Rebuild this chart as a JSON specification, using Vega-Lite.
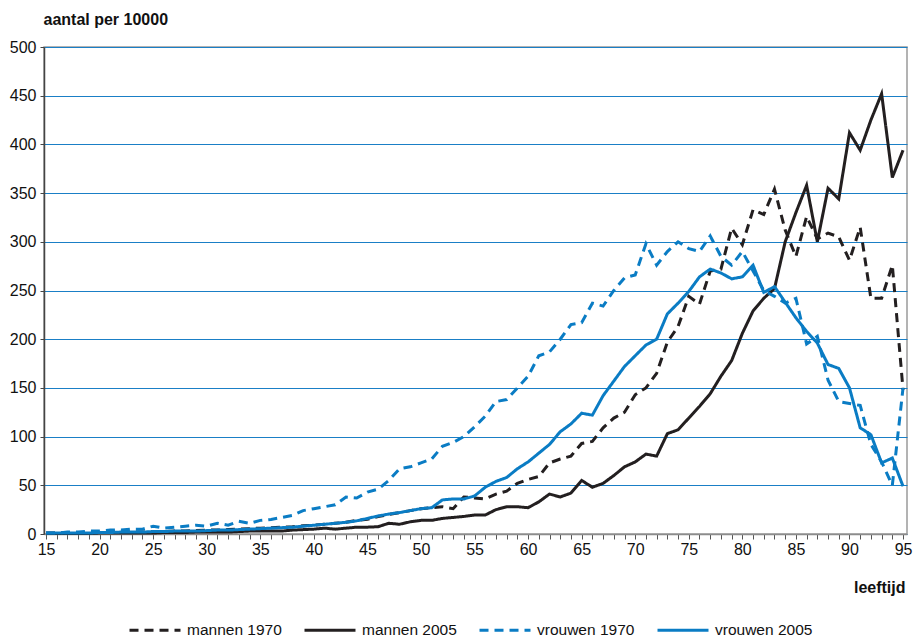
{
  "$schema": "https://vega.github.io/schema/vega-lite/v6.json",
  "width": 863,
  "height": 487,
  "autosize": {"type": "none"},
  "padding": {"left": 44, "top": 47, "right": 6, "bottom": 104},
  "background": "white",
  "config": {
    "font": "Liberation Sans",
    "view": {"stroke": "#9a9a9a", "strokeWidth": 1.5},
    "axis": {"labelFont": "Liberation Sans", "labelFontSize": 16, "labelColor": "#111", "titleFont": "Liberation Sans", "titleFontSize": 16, "titleFontWeight": "bold", "titleColor": "#111"},
    "legend": {"labelFont": "Liberation Sans", "labelFontSize": 15.5, "labelColor": "#111"}
  },
  "datasets": {
    "d": [
      {"a":15,"s":"mannen 1970","v":1},{"a":16,"s":"mannen 1970","v":1},{"a":17,"s":"mannen 1970","v":1},{"a":18,"s":"mannen 1970","v":1},{"a":19,"s":"mannen 1970","v":1},{"a":20,"s":"mannen 1970","v":1.5},{"a":21,"s":"mannen 1970","v":2},{"a":22,"s":"mannen 1970","v":2},{"a":23,"s":"mannen 1970","v":2},{"a":24,"s":"mannen 1970","v":2},
      {"a":25,"s":"mannen 1970","v":2.5},{"a":26,"s":"mannen 1970","v":2.5},{"a":27,"s":"mannen 1970","v":3},{"a":28,"s":"mannen 1970","v":3},{"a":29,"s":"mannen 1970","v":3.5},{"a":30,"s":"mannen 1970","v":4},{"a":31,"s":"mannen 1970","v":4},{"a":32,"s":"mannen 1970","v":4.5},{"a":33,"s":"mannen 1970","v":5},{"a":34,"s":"mannen 1970","v":5.5},
      {"a":35,"s":"mannen 1970","v":6},{"a":36,"s":"mannen 1970","v":6.5},{"a":37,"s":"mannen 1970","v":7},{"a":38,"s":"mannen 1970","v":7.5},{"a":39,"s":"mannen 1970","v":8.5},{"a":40,"s":"mannen 1970","v":9},{"a":41,"s":"mannen 1970","v":10},{"a":42,"s":"mannen 1970","v":11},{"a":43,"s":"mannen 1970","v":12},{"a":44,"s":"mannen 1970","v":14},
      {"a":45,"s":"mannen 1970","v":15},{"a":46,"s":"mannen 1970","v":18},{"a":47,"s":"mannen 1970","v":20},{"a":48,"s":"mannen 1970","v":22},{"a":49,"s":"mannen 1970","v":24},{"a":50,"s":"mannen 1970","v":26},{"a":51,"s":"mannen 1970","v":27},{"a":52,"s":"mannen 1970","v":28},{"a":53,"s":"mannen 1970","v":26},{"a":54,"s":"mannen 1970","v":38},
      {"a":55,"s":"mannen 1970","v":37},{"a":56,"s":"mannen 1970","v":36},{"a":57,"s":"mannen 1970","v":41},{"a":58,"s":"mannen 1970","v":44},{"a":59,"s":"mannen 1970","v":52},{"a":60,"s":"mannen 1970","v":56},{"a":61,"s":"mannen 1970","v":59},{"a":62,"s":"mannen 1970","v":73},{"a":63,"s":"mannen 1970","v":77},{"a":64,"s":"mannen 1970","v":80},
      {"a":65,"s":"mannen 1970","v":93},{"a":66,"s":"mannen 1970","v":95},{"a":67,"s":"mannen 1970","v":109},{"a":68,"s":"mannen 1970","v":119},{"a":69,"s":"mannen 1970","v":125},{"a":70,"s":"mannen 1970","v":143},{"a":71,"s":"mannen 1970","v":150},{"a":72,"s":"mannen 1970","v":165},{"a":73,"s":"mannen 1970","v":197},{"a":74,"s":"mannen 1970","v":213},
      {"a":75,"s":"mannen 1970","v":244},{"a":76,"s":"mannen 1970","v":236},{"a":77,"s":"mannen 1970","v":270},{"a":78,"s":"mannen 1970","v":272},{"a":79,"s":"mannen 1970","v":314},{"a":80,"s":"mannen 1970","v":297},{"a":81,"s":"mannen 1970","v":333},{"a":82,"s":"mannen 1970","v":328},{"a":83,"s":"mannen 1970","v":354},{"a":84,"s":"mannen 1970","v":312},
      {"a":85,"s":"mannen 1970","v":285},{"a":86,"s":"mannen 1970","v":326},{"a":87,"s":"mannen 1970","v":303},{"a":88,"s":"mannen 1970","v":309},{"a":89,"s":"mannen 1970","v":305},{"a":90,"s":"mannen 1970","v":281},{"a":91,"s":"mannen 1970","v":315},{"a":92,"s":"mannen 1970","v":242},{"a":93,"s":"mannen 1970","v":242},{"a":94,"s":"mannen 1970","v":276},
      {"a":95,"s":"mannen 1970","v":148},

      {"a":15,"s":"mannen 2005","v":0.5},{"a":16,"s":"mannen 2005","v":0.5},{"a":17,"s":"mannen 2005","v":0.5},{"a":18,"s":"mannen 2005","v":0.5},{"a":19,"s":"mannen 2005","v":0.5},{"a":20,"s":"mannen 2005","v":1},{"a":21,"s":"mannen 2005","v":1},{"a":22,"s":"mannen 2005","v":1},{"a":23,"s":"mannen 2005","v":1},{"a":24,"s":"mannen 2005","v":1},
      {"a":25,"s":"mannen 2005","v":1},{"a":26,"s":"mannen 2005","v":1.5},{"a":27,"s":"mannen 2005","v":1.5},{"a":28,"s":"mannen 2005","v":1.5},{"a":29,"s":"mannen 2005","v":2},{"a":30,"s":"mannen 2005","v":2},{"a":31,"s":"mannen 2005","v":2},{"a":32,"s":"mannen 2005","v":2},{"a":33,"s":"mannen 2005","v":2.5},{"a":34,"s":"mannen 2005","v":3},
      {"a":35,"s":"mannen 2005","v":3},{"a":36,"s":"mannen 2005","v":3},{"a":37,"s":"mannen 2005","v":3},{"a":38,"s":"mannen 2005","v":4},{"a":39,"s":"mannen 2005","v":4.5},{"a":40,"s":"mannen 2005","v":5},{"a":41,"s":"mannen 2005","v":6},{"a":42,"s":"mannen 2005","v":5},{"a":43,"s":"mannen 2005","v":6},{"a":44,"s":"mannen 2005","v":7},
      {"a":45,"s":"mannen 2005","v":7},{"a":46,"s":"mannen 2005","v":7.5},{"a":47,"s":"mannen 2005","v":11},{"a":48,"s":"mannen 2005","v":10},{"a":49,"s":"mannen 2005","v":12.5},{"a":50,"s":"mannen 2005","v":14},{"a":51,"s":"mannen 2005","v":14},{"a":52,"s":"mannen 2005","v":16},{"a":53,"s":"mannen 2005","v":17},{"a":54,"s":"mannen 2005","v":18},
      {"a":55,"s":"mannen 2005","v":19.5},{"a":56,"s":"mannen 2005","v":19.5},{"a":57,"s":"mannen 2005","v":25},{"a":58,"s":"mannen 2005","v":28},{"a":59,"s":"mannen 2005","v":28},{"a":60,"s":"mannen 2005","v":27},{"a":61,"s":"mannen 2005","v":33},{"a":62,"s":"mannen 2005","v":41},{"a":63,"s":"mannen 2005","v":38},{"a":64,"s":"mannen 2005","v":42},
      {"a":65,"s":"mannen 2005","v":55},{"a":66,"s":"mannen 2005","v":48},{"a":67,"s":"mannen 2005","v":52},{"a":68,"s":"mannen 2005","v":60},{"a":69,"s":"mannen 2005","v":69},{"a":70,"s":"mannen 2005","v":74},{"a":71,"s":"mannen 2005","v":82},{"a":72,"s":"mannen 2005","v":80},{"a":73,"s":"mannen 2005","v":103},{"a":74,"s":"mannen 2005","v":107},
      {"a":75,"s":"mannen 2005","v":119},{"a":76,"s":"mannen 2005","v":131},{"a":77,"s":"mannen 2005","v":144},{"a":78,"s":"mannen 2005","v":162},{"a":79,"s":"mannen 2005","v":178},{"a":80,"s":"mannen 2005","v":206},{"a":81,"s":"mannen 2005","v":229},{"a":82,"s":"mannen 2005","v":242},{"a":83,"s":"mannen 2005","v":252},{"a":84,"s":"mannen 2005","v":300},
      {"a":85,"s":"mannen 2005","v":330},{"a":86,"s":"mannen 2005","v":358},{"a":87,"s":"mannen 2005","v":300},{"a":88,"s":"mannen 2005","v":355},{"a":89,"s":"mannen 2005","v":344},{"a":90,"s":"mannen 2005","v":412},{"a":91,"s":"mannen 2005","v":394},{"a":92,"s":"mannen 2005","v":425},{"a":93,"s":"mannen 2005","v":452},{"a":94,"s":"mannen 2005","v":366},
      {"a":95,"s":"mannen 2005","v":394},

      {"a":15,"s":"vrouwen 1970","v":1},{"a":16,"s":"vrouwen 1970","v":1},{"a":17,"s":"vrouwen 1970","v":2},{"a":18,"s":"vrouwen 1970","v":2},{"a":19,"s":"vrouwen 1970","v":3},{"a":20,"s":"vrouwen 1970","v":3},{"a":21,"s":"vrouwen 1970","v":4},{"a":22,"s":"vrouwen 1970","v":4},{"a":23,"s":"vrouwen 1970","v":5},{"a":24,"s":"vrouwen 1970","v":5},
      {"a":25,"s":"vrouwen 1970","v":8},{"a":26,"s":"vrouwen 1970","v":6},{"a":27,"s":"vrouwen 1970","v":7},{"a":28,"s":"vrouwen 1970","v":8},{"a":29,"s":"vrouwen 1970","v":9},{"a":30,"s":"vrouwen 1970","v":8},{"a":31,"s":"vrouwen 1970","v":11},{"a":32,"s":"vrouwen 1970","v":9},{"a":33,"s":"vrouwen 1970","v":13},{"a":34,"s":"vrouwen 1970","v":11},
      {"a":35,"s":"vrouwen 1970","v":14},{"a":36,"s":"vrouwen 1970","v":15},{"a":37,"s":"vrouwen 1970","v":17},{"a":38,"s":"vrouwen 1970","v":19},{"a":39,"s":"vrouwen 1970","v":24},{"a":40,"s":"vrouwen 1970","v":26},{"a":41,"s":"vrouwen 1970","v":28},{"a":42,"s":"vrouwen 1970","v":30},{"a":43,"s":"vrouwen 1970","v":38},{"a":44,"s":"vrouwen 1970","v":37},
      {"a":45,"s":"vrouwen 1970","v":43},{"a":46,"s":"vrouwen 1970","v":46},{"a":47,"s":"vrouwen 1970","v":55},{"a":48,"s":"vrouwen 1970","v":67},{"a":49,"s":"vrouwen 1970","v":69},{"a":50,"s":"vrouwen 1970","v":73},{"a":51,"s":"vrouwen 1970","v":77},{"a":52,"s":"vrouwen 1970","v":90},{"a":53,"s":"vrouwen 1970","v":94},{"a":54,"s":"vrouwen 1970","v":100},
      {"a":55,"s":"vrouwen 1970","v":110},{"a":56,"s":"vrouwen 1970","v":121},{"a":57,"s":"vrouwen 1970","v":136},{"a":58,"s":"vrouwen 1970","v":138},{"a":59,"s":"vrouwen 1970","v":150},{"a":60,"s":"vrouwen 1970","v":162},{"a":61,"s":"vrouwen 1970","v":183},{"a":62,"s":"vrouwen 1970","v":187},{"a":63,"s":"vrouwen 1970","v":200},{"a":64,"s":"vrouwen 1970","v":215},
      {"a":65,"s":"vrouwen 1970","v":217},{"a":66,"s":"vrouwen 1970","v":237},{"a":67,"s":"vrouwen 1970","v":234},{"a":68,"s":"vrouwen 1970","v":250},{"a":69,"s":"vrouwen 1970","v":263},{"a":70,"s":"vrouwen 1970","v":266},{"a":71,"s":"vrouwen 1970","v":298},{"a":72,"s":"vrouwen 1970","v":276},{"a":73,"s":"vrouwen 1970","v":290},{"a":74,"s":"vrouwen 1970","v":300},
      {"a":75,"s":"vrouwen 1970","v":293},{"a":76,"s":"vrouwen 1970","v":290},{"a":77,"s":"vrouwen 1970","v":306},{"a":78,"s":"vrouwen 1970","v":285},{"a":79,"s":"vrouwen 1970","v":276},{"a":80,"s":"vrouwen 1970","v":290},{"a":81,"s":"vrouwen 1970","v":270},{"a":82,"s":"vrouwen 1970","v":250},{"a":83,"s":"vrouwen 1970","v":244},{"a":84,"s":"vrouwen 1970","v":237},
      {"a":85,"s":"vrouwen 1970","v":242},{"a":86,"s":"vrouwen 1970","v":195},{"a":87,"s":"vrouwen 1970","v":203},{"a":88,"s":"vrouwen 1970","v":158},{"a":89,"s":"vrouwen 1970","v":136},{"a":90,"s":"vrouwen 1970","v":134},{"a":91,"s":"vrouwen 1970","v":132},{"a":92,"s":"vrouwen 1970","v":92},{"a":93,"s":"vrouwen 1970","v":74},{"a":94,"s":"vrouwen 1970","v":50},
      {"a":95,"s":"vrouwen 1970","v":150},

      {"a":15,"s":"vrouwen 2005","v":1},{"a":16,"s":"vrouwen 2005","v":1},{"a":17,"s":"vrouwen 2005","v":1},{"a":18,"s":"vrouwen 2005","v":1},{"a":19,"s":"vrouwen 2005","v":1},{"a":20,"s":"vrouwen 2005","v":1.5},{"a":21,"s":"vrouwen 2005","v":1.5},{"a":22,"s":"vrouwen 2005","v":2},{"a":23,"s":"vrouwen 2005","v":2},{"a":24,"s":"vrouwen 2005","v":2},
      {"a":25,"s":"vrouwen 2005","v":2.5},{"a":26,"s":"vrouwen 2005","v":2.5},{"a":27,"s":"vrouwen 2005","v":3},{"a":28,"s":"vrouwen 2005","v":3},{"a":29,"s":"vrouwen 2005","v":3},{"a":30,"s":"vrouwen 2005","v":3.5},{"a":31,"s":"vrouwen 2005","v":4},{"a":32,"s":"vrouwen 2005","v":4},{"a":33,"s":"vrouwen 2005","v":4.5},{"a":34,"s":"vrouwen 2005","v":5},
      {"a":35,"s":"vrouwen 2005","v":5.5},{"a":36,"s":"vrouwen 2005","v":6},{"a":37,"s":"vrouwen 2005","v":6.5},{"a":38,"s":"vrouwen 2005","v":7},{"a":39,"s":"vrouwen 2005","v":8},{"a":40,"s":"vrouwen 2005","v":9},{"a":41,"s":"vrouwen 2005","v":10},{"a":42,"s":"vrouwen 2005","v":11},{"a":43,"s":"vrouwen 2005","v":12},{"a":44,"s":"vrouwen 2005","v":13.5},
      {"a":45,"s":"vrouwen 2005","v":16},{"a":46,"s":"vrouwen 2005","v":18.5},{"a":47,"s":"vrouwen 2005","v":20.5},{"a":48,"s":"vrouwen 2005","v":22},{"a":49,"s":"vrouwen 2005","v":24},{"a":50,"s":"vrouwen 2005","v":26},{"a":51,"s":"vrouwen 2005","v":27},{"a":52,"s":"vrouwen 2005","v":35},{"a":53,"s":"vrouwen 2005","v":36},{"a":54,"s":"vrouwen 2005","v":36},
      {"a":55,"s":"vrouwen 2005","v":39},{"a":56,"s":"vrouwen 2005","v":48},{"a":57,"s":"vrouwen 2005","v":54},{"a":58,"s":"vrouwen 2005","v":58},{"a":59,"s":"vrouwen 2005","v":67},{"a":60,"s":"vrouwen 2005","v":74},{"a":61,"s":"vrouwen 2005","v":83},{"a":62,"s":"vrouwen 2005","v":92},{"a":63,"s":"vrouwen 2005","v":105},{"a":64,"s":"vrouwen 2005","v":113},
      {"a":65,"s":"vrouwen 2005","v":124},{"a":66,"s":"vrouwen 2005","v":122},{"a":67,"s":"vrouwen 2005","v":142},{"a":68,"s":"vrouwen 2005","v":157},{"a":69,"s":"vrouwen 2005","v":172},{"a":70,"s":"vrouwen 2005","v":183},{"a":71,"s":"vrouwen 2005","v":194},{"a":72,"s":"vrouwen 2005","v":200},{"a":73,"s":"vrouwen 2005","v":226},{"a":74,"s":"vrouwen 2005","v":237},
      {"a":75,"s":"vrouwen 2005","v":249},{"a":76,"s":"vrouwen 2005","v":264},{"a":77,"s":"vrouwen 2005","v":272},{"a":78,"s":"vrouwen 2005","v":268},{"a":79,"s":"vrouwen 2005","v":262},{"a":80,"s":"vrouwen 2005","v":264},{"a":81,"s":"vrouwen 2005","v":276},{"a":82,"s":"vrouwen 2005","v":248},{"a":83,"s":"vrouwen 2005","v":254},{"a":84,"s":"vrouwen 2005","v":238},
      {"a":85,"s":"vrouwen 2005","v":222},{"a":86,"s":"vrouwen 2005","v":208},{"a":87,"s":"vrouwen 2005","v":196},{"a":88,"s":"vrouwen 2005","v":174},{"a":89,"s":"vrouwen 2005","v":170},{"a":90,"s":"vrouwen 2005","v":150},{"a":91,"s":"vrouwen 2005","v":109},{"a":92,"s":"vrouwen 2005","v":102},{"a":93,"s":"vrouwen 2005","v":73},{"a":94,"s":"vrouwen 2005","v":78},
      {"a":95,"s":"vrouwen 2005","v":49}
    ]
  },
  "data": {"name": "d"},
  "mark": {"type": "line", "strokeWidth": 3, "strokeCap": "butt", "strokeJoin": "miter", "clip": false},
  "encoding": {
    "x": {
      "field": "a", "type": "quantitative",
      "scale": {"domain": [14.81, 95.37], "nice": false, "zero": false},
      "axis": {
        "title": "leeftijd", "titleAlign": "right", "titleAnchor": null, "titleX": 861, "titleY": 58, "titleBaseline": "alphabetic",
        "values": [15,16,17,18,19,20,21,22,23,24,25,26,27,28,29,30,31,32,33,34,35,36,37,38,39,40,41,42,43,44,45,46,47,48,49,50,51,52,53,54,55,56,57,58,59,60,61,62,63,64,65,66,67,68,69,70,71,72,73,74,75,76,77,78,79,80,81,82,83,84,85,86,87,88,89,90,91,92,93,94,95],
        "labelExpr": "datum.value % 5 === 0 ? datum.label : ''",
        "labelOverlap": false, "labelFlush": false,
        "grid": false, "domainColor": "#8c8c8c", "domainWidth": 1.5, "tickColor": "#555", "tickSize": 5, "tickWidth": 1, "labelPadding": 2
      }
    },
    "y": {
      "field": "v", "type": "quantitative",
      "scale": {"domain": [0, 500], "nice": false},
      "axis": {
        "title": "aantal per 10000", "titleAngle": 0, "titleAlign": "left", "titleAnchor": null, "titleX": -1, "titleY": -23, "titleBaseline": "alphabetic",
        "values": [0,50,100,150,200,250,300,350,400,450,500],
        "grid": true, "gridColor": "#1a7fc6", "gridWidth": 1.2,
        "domainColor": "#444", "domainWidth": 1.5, "tickColor": "#444", "tickSize": 4, "labelPadding": 4
      }
    },
    "color": {
      "field": "s", "type": "nominal",
      "scale": {"domain": ["mannen 1970", "mannen 2005", "vrouwen 1970", "vrouwen 2005"], "range": ["#231f20", "#231f20", "#0a7cc4", "#0a7cc4"]},
      "legend": {"title": null, "orient": "none", "legendX": 84, "legendY": 556, "direction": "horizontal", "symbolType": "stroke", "symbolSize": 2600, "symbolStrokeWidth": 3, "labelOffset": 5, "columnPadding": 16, "padding": 0}
    },
    "strokeDash": {
      "field": "s", "type": "nominal",
      "scale": {"domain": ["mannen 1970", "mannen 2005", "vrouwen 1970", "vrouwen 2005"], "range": [[9, 6], [1, 0], [9, 6], [1, 0]]},
      "legend": {"title": null, "orient": "none", "legendX": 84, "legendY": 556, "direction": "horizontal", "symbolType": "stroke", "symbolSize": 2600, "symbolStrokeWidth": 3, "labelOffset": 5, "columnPadding": 16, "padding": 0}
    }
  }
}
